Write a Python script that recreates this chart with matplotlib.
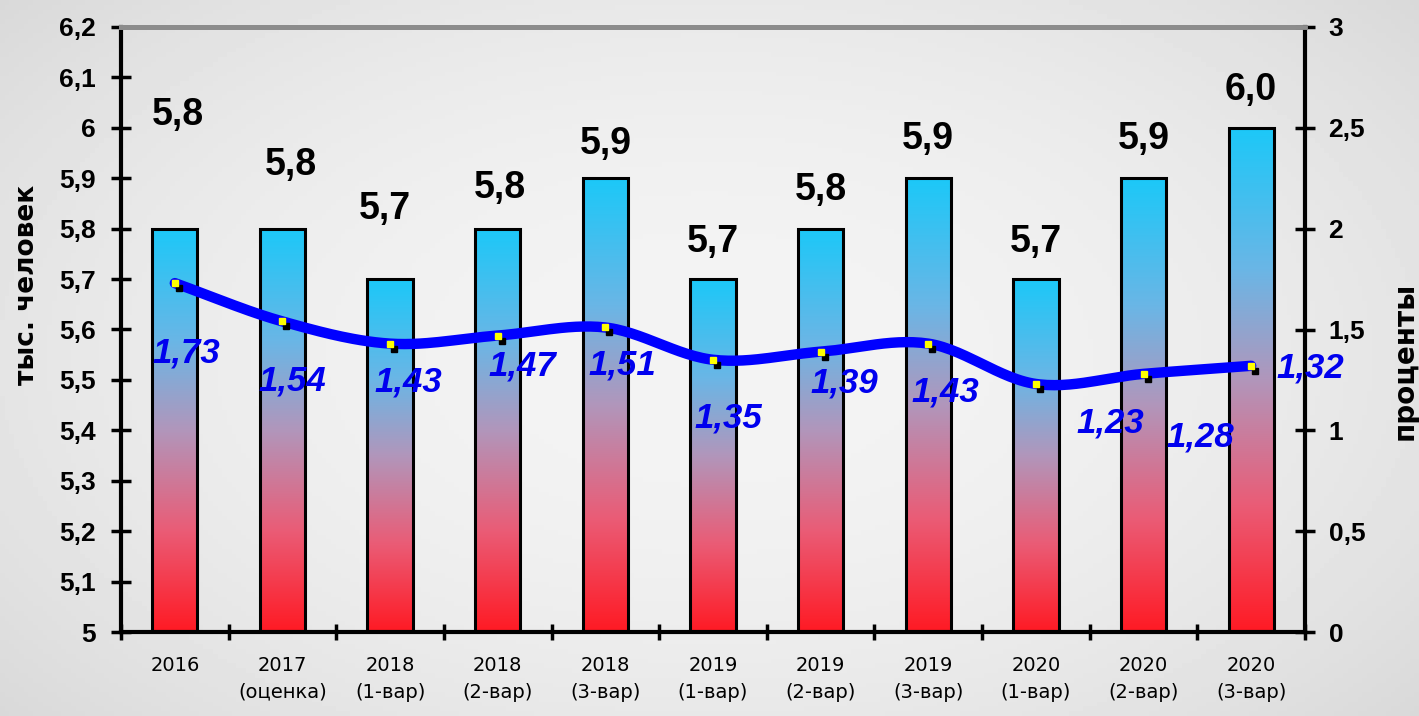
import numpy as np
import matplotlib
matplotlib.use("Agg")
from matplotlib import pyplot as plt
from matplotlib import font_manager
from matplotlib.colors import LinearSegmentedColormap
from matplotlib.patches import Rectangle
from matplotlib.ticker import FuncFormatter, MultipleLocator
import matplotlib.transforms as mtransforms

# данные
years = ["2016", "2017", "2018", "2018", "2018", "2019", "2019", "2019", "2020", "2020", "2020"]
variants = ["", "(оценка)", "(1-вар)", "(2-вар)", "(3-вар)", "(1-вар)", "(2-вар)", "(3-вар)",
            "(1-вар)", "(2-вар)", "(3-вар)"]
people = [5.8, 5.8, 5.7, 5.8, 5.9, 5.7, 5.8, 5.9, 5.7, 5.9, 6.0]      # тыс. человек
percent = [1.73, 1.54, 1.43, 1.47, 1.51, 1.35, 1.39, 1.43, 1.23, 1.28, 1.32]  # проценты

# сдвиги подписей (в пикселях)
people_lbl_dy = [114, 64, 70, 41, 34, 37, 39, 39, 37, 39, 38]
people_lbl_dx = [3, 8, -5, 2, 0, 0, 0, 0, 0, 0, 0]
pct_lbl_off = [(11, -70), (10, -60), (18, -38), (25, -30), (17, -38), (15, -58),
               (24, -31), (17, -48), (74, -39), (57, -63), (59, -2)]


def pick(name, fallback="Liberation Sans"):
    try:
        font_manager.findfont(font_manager.FontProperties(family=name), fallback_to_default=False)
        return name
    except ValueError:
        return fallback


narrow = pick("Liberation Sans Narrow")
plt.rcParams["font.family"] = ["Liberation Sans", "DejaVu Sans"]

fig = plt.figure(figsize=(14.19, 7.16), dpi=100)

# фон
bg = fig.add_axes([0, 0, 1, 1], zorder=-10)
gx, gy = np.meshgrid(np.linspace(-1, 1, 300), np.linspace(-1, 1, 150))
grad = 0.955 - 0.075 * (gx ** 2 * 0.8 + gy ** 2 * 0.6)
bg.imshow(grad, cmap="gray", vmin=0, vmax=1, aspect="auto", extent=[0, 1, 0, 1])
bg.axis("off")

ax = fig.add_axes([121 / 1419, 84 / 716, 1184 / 1419, 605 / 716])
ax.patch.set_alpha(0)

cmap = LinearSegmentedColormap.from_list(
    "bar", [(0, "#ff1a24"), (0.25, "#ea5c76"), (0.5, "#b196bb"), (0.72, "#6ab6e6"), (1, "#1cc8f8")])
x = np.arange(len(people))
w = 0.42
col = np.linspace(0, 1, 256).reshape(-1, 1)
for i, h in enumerate(people):
    rect = Rectangle((x[i] - w / 2, 5), w, h - 5, facecolor="none", edgecolor="black",
                     linewidth=2.2, zorder=3)
    ax.add_patch(rect)
    im = ax.imshow(col, cmap=cmap, origin="lower", aspect="auto",
                   extent=[x[i] - w / 2, x[i] + w / 2, 5, h], zorder=2)
    im.set_clip_path(rect)
    ax.annotate(f"{h:.1f}".replace(".", ","), (x[i], h),
                xytext=(people_lbl_dx[i], people_lbl_dy[i]), textcoords="offset pixels",
                ha="center", va="center", fontsize=27, fontweight="bold",
                family=narrow, color="black")

ax.set_xlim(-0.5, len(people) - 0.5)
ax.set_ylim(5, 6.2)
ax.yaxis.set_major_locator(MultipleLocator(0.1))
ax.yaxis.set_major_formatter(FuncFormatter(lambda v, p: f"{v:.1f}".rstrip("0").rstrip(".").replace(".", ",")))
ax.set_xticks(x)
ax.set_xticklabels([f"{a}\n{b}" for a, b in zip(years, variants)], fontsize=14,
                   linespacing=1.55, family="DejaVu Sans")
ax.set_xticks(np.arange(-0.5, len(people)), minor=True)
ax.tick_params(axis="x", which="major", length=0, pad=17)
ax.tick_params(axis="x", which="minor", direction="inout", length=11, width=2.5)
ax.tick_params(axis="y", direction="inout", length=14, width=2.5, pad=11, labelsize=19)
for lab in ax.get_yticklabels():
    lab.set_fontweight("bold")
    lab.set_family(narrow)
for s in ["left", "bottom"]:
    ax.spines[s].set_linewidth(3)
ax.spines["right"].set_visible(False)
ax.spines["top"].set_color("#8c8c8c")
ax.spines["top"].set_linewidth(3.5)

# линия в процентах
ax2 = ax.twinx()
ax2.set_ylim(0, 3)
ax2.yaxis.set_major_locator(MultipleLocator(0.5))
ax2.yaxis.set_major_formatter(FuncFormatter(lambda v, p: f"{v:g}".replace(".", ",")))
ax2.tick_params(axis="y", direction="inout", length=14, width=2.5, pad=10, labelsize=19)
for lab in ax2.get_yticklabels():
    lab.set_fontweight("bold")
    lab.set_family(narrow)
for s in ["left", "bottom"]:
    ax2.spines[s].set_visible(False)
ax2.spines["right"].set_linewidth(3)
ax2.spines["top"].set_color("#8c8c8c")
ax2.spines["top"].set_linewidth(3.5)

# сглаженная линия (кривая Эрмита через точки)
p = np.array(percent)
m = np.gradient(p)
xs, ys = [], []
for i in range(len(p) - 1):
    t = np.linspace(0, 1, 30)
    h00 = 2 * t ** 3 - 3 * t ** 2 + 1
    h10 = t ** 3 - 2 * t ** 2 + t
    h01 = -2 * t ** 3 + 3 * t ** 2
    h11 = t ** 3 - t ** 2
    xs.extend(x[i] + t)
    ys.extend(h00 * p[i] + h10 * m[i] + h01 * p[i + 1] + h11 * m[i + 1])
ax2.plot(xs, ys, color="#0000ff", linewidth=7.5, solid_capstyle="round", zorder=4)
shadow = mtransforms.offset_copy(ax2.transData, fig=fig, x=4, y=-5, units="dots")
ax2.plot(x, p, linestyle="none", marker="s", markersize=5, color="black", transform=shadow, zorder=5)
ax2.plot(x, p, linestyle="none", marker="s", markersize=5, color="#ffff00", zorder=6)
for i, v in enumerate(percent):
    ax2.annotate(f"{v:.2f}".replace(".", ","), (x[i], v), xytext=pct_lbl_off[i],
                 textcoords="offset pixels", ha="center", va="center", fontsize=25,
                 fontweight="bold", fontstyle="italic", family=narrow, color="#0000ee", zorder=7)

fig.text(27 / 1419, 1 - 285 / 716, "тыс. человек", rotation=90, ha="center", va="center",
         fontsize=19, fontweight="bold", family="DejaVu Sans")
fig.text(1405 / 1419, 1 - 361 / 716, "проценты", rotation=90, ha="center", va="center",
         fontsize=20, fontweight="bold", family="DejaVu Sans")

fig.savefig("out.png", dpi=100)
